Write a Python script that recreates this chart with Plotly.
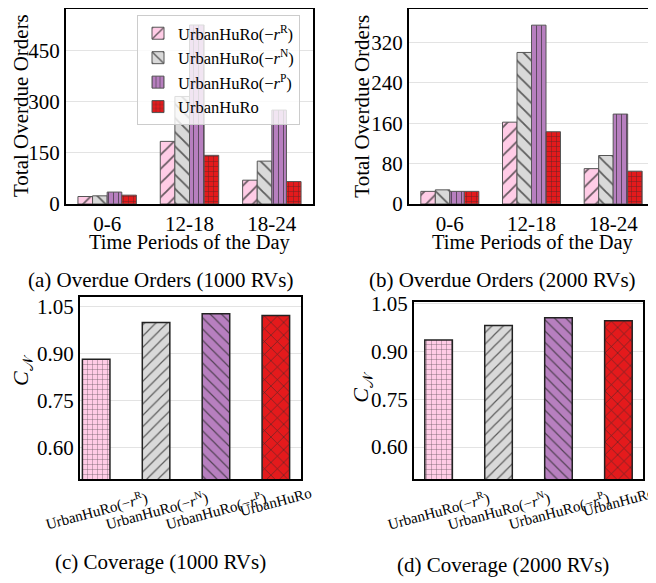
import plotly.graph_objects as go

# ---------------- data ----------------
periods = ["0-6", "12-18", "18-24"]
series_names = ["UrbanHuRo(−<i>r</i><sup>R</sup>)", "UrbanHuRo(−<i>r</i><sup>N</sup>)",
                "UrbanHuRo(−<i>r</i><sup>P</sup>)", "UrbanHuRo"]

overdue_1000 = {
    "R": [22, 184, 70],
    "N": [24, 316, 126],
    "P": [35, 526, 276],
    "full": [26, 143, 66],
}
overdue_2000 = {
    "R": [25, 162, 70],
    "N": [28, 300, 96],
    "P": [25, 354, 178],
    "full": [25, 143, 65],
}
coverage_1000 = [0.882, 0.999, 1.027, 1.021]
coverage_2000 = [0.936, 0.981, 1.006, 0.996]

yticks_a = [0, 150, 300, 450]
yticks_b = [0, 80, 160, 240, 320]
yticks_cov = [0.60, 0.75, 0.90, 1.05]

# ---------------- styles ----------------
colors = ["#FFCCE6", "#D9D9D9", "#B77FBF", "#E41A1C"]
pat_top = ["/", "\\", "|", "+"]
size_top = [10, 10, 5, 5]
pat_bot = ["+", "/", "\\", "x"]
size_bot = [5, 8, 8, 9]
FONT = "Liberation Serif, Times New Roman, serif"
OFF = 8                      # default page body margin
W, H = 656 - OFF, 583 - OFF
HATCH = "rgba(40,40,40,0.7)"


def px_x(p):
    return min(1.0, max(0.0, (p - OFF) / W))


def px_y(p):
    return min(1.0, max(0.0, 1 - (p - OFF) / H))


fig = go.Figure()

keys = ["R", "N", "P", "full"]
for idx, (data, xa, ya) in enumerate([(overdue_1000, "x", "y"), (overdue_2000, "x2", "y2")]):
    for i, k in enumerate(keys):
        fig.add_trace(go.Bar(
            x=periods, y=data[k], name=series_names[i],
            xaxis=xa, yaxis=ya, showlegend=(idx == 0),
            marker=dict(color=colors[i], line=dict(color="#555555", width=1),
                        pattern=dict(shape=pat_top[i], fillmode="replace", bgcolor=colors[i],
                                     fgcolor=HATCH, size=size_top[i], solidity=0.18)),
        ))

for cov, xa, ya in [(coverage_1000, "x3", "y3"), (coverage_2000, "x4", "y4")]:
    for i, v in enumerate(cov):
        fig.add_trace(go.Bar(
            x=[i], y=[v], xaxis=xa, yaxis=ya, showlegend=False, width=0.46, offset=-0.23,
            marker=dict(color=colors[i], line=dict(color="#222222", width=1.5),
                        pattern=dict(shape=pat_bot[i], fillmode="replace", bgcolor=colors[i],
                                     fgcolor=HATCH, size=size_bot[i], solidity=0.15)),
        ))

axis_common = dict(showline=True, mirror=True, linecolor="black", linewidth=2, automargin=False,
                   ticks="", tickfont=dict(family=FONT, size=21, color="black"))

fig.update_layout(
    template="none",
    width=W, height=H, margin=dict(l=0, r=0, t=0, b=0, pad=0, autoexpand=False),
    paper_bgcolor="white", plot_bgcolor="white",
    barmode="group", bargap=0.29, bargroupgap=0,
    font=dict(family=FONT, color="black"),
    xaxis=dict(domain=[px_x(66), px_x(313)], anchor="y", range=[-0.5, 2.5], showgrid=False,
               **axis_common),
    yaxis=dict(domain=[px_y(204), px_y(9)], anchor="x", range=[0, 573], tickvals=yticks_a,
               showgrid=True, gridcolor="#E3E3E3", zeroline=False, **axis_common),
    xaxis2=dict(domain=[px_x(409), px_x(654)], anchor="y2", range=[-0.5, 2.5], showgrid=False,
                **axis_common),
    yaxis2=dict(domain=[px_y(204), px_y(9)], anchor="x2", range=[0, 386], tickvals=yticks_b,
                showgrid=True, gridcolor="#E3E3E3", zeroline=False, **axis_common),
    xaxis3=dict(domain=[px_x(80), px_x(301)], anchor="y3", range=[-0.27, 3.42], showgrid=False,
                showticklabels=False, **axis_common),
    yaxis3=dict(domain=[px_y(479), px_y(297)], anchor="x3", range=[0.5, 1.08], tickvals=yticks_cov,
                tickformat=".2f", showgrid=True, gridcolor="#E3E3E3", zeroline=False, **axis_common),
    xaxis4=dict(domain=[px_x(414), px_x(643)], anchor="y4", range=[-0.41, 3.41], showgrid=False,
                showticklabels=False, **axis_common),
    yaxis4=dict(domain=[px_y(479), px_y(302)], anchor="x4", range=[0.5, 1.055], tickvals=yticks_cov,
                tickformat=".2f", showgrid=True, gridcolor="#E3E3E3", zeroline=False, **axis_common),
    legend=dict(x=px_x(137), y=px_y(15), xanchor="left", yanchor="top",
                bgcolor="rgba(255,255,255,0.8)", bordercolor="#CCCCCC", borderwidth=1,
                font=dict(family=FONT, size=16.5, color="black"), tracegroupgap=0,
                itemwidth=30),
)

ann = []
base = dict(xref="paper", yref="paper", xanchor="center", yanchor="middle", showarrow=False)
# captions
for text, cx, cy in [("(a) Overdue Orders (1000 RVs)", 160.5, 280),
                     ("(b) Overdue Orders (2000 RVs)", 502.5, 280),
                     ("(c) Coverage (1000 RVs)", 160, 562),
                     ("(d) Coverage (2000 RVs)", 503, 565)]:
    ann.append(dict(text=text, x=px_x(cx), y=px_y(cy), font=dict(family=FONT, size=21, color="black"), **base))
# x titles
for cx in [190, 532.5]:
    ann.append(dict(text="Time Periods of the Day", x=px_x(cx), y=px_y(242),
                    font=dict(family=FONT, size=20.5, color="black"), **base))
# y titles
for cx, cy in [(21, 106), (362, 106.7)]:
    ann.append(dict(text="Total Overdue Orders", x=px_x(cx), y=px_y(cy), textangle=-90,
                    font=dict(family=FONT, size=21, color="black"), **base))
for cx, cy in [(22, 370), (362, 386.7)]:
    ann.append(dict(text="<i>C</i><sub>𝒩</sub>", x=px_x(cx), y=px_y(cy), textangle=-90,
                    font=dict(family=FONT, size=22, color="black"), **base))
# rotated category labels for coverage panels
for xa in ["x3", "x4"]:
    for i, name in enumerate(series_names):
        ann.append(dict(text=name, x=i, y=px_y(510 if i < 3 else 502), xref=xa, yref="paper",
                        xanchor="center", yanchor="middle", textangle=-15, showarrow=False,
                        font=dict(family=FONT, size=15, color="black")))
fig.update_layout(annotations=ann)

fig.write_html("out.html")
